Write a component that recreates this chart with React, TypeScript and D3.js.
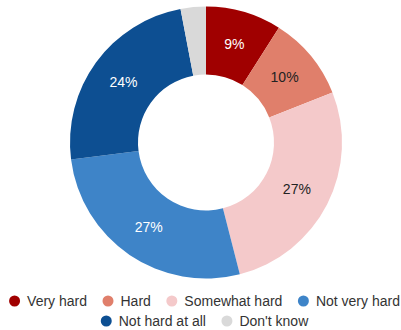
import React from "react";
import * as d3 from "d3";

const categories = ["Very hard", "Hard", "Somewhat hard", "Not very hard", "Not hard at all", "Don't know"];
const values = [9, 10, 27, 27, 24, 3];
const labels = ["9%", "10%", "27%", "27%", "24%", ""];
const colors = ["#a00000", "#e07f6b", "#f4c9ca", "#3e84c8", "#0d4f92", "#d9d9d9"];
const labelColors = ["#ffffff", "#222222", "#222222", "#ffffff", "#ffffff", "#222222"];
const legendRows = [[0, 1, 2, 3], [4, 5]];

const W = 401, H = 330;
const FONT = "'Liberation Sans', Arial, sans-serif";

function measure(t: string, size: number) {
  const c = document.createElement("canvas").getContext("2d")!;
  c.font = `${size}px ${FONT}`;
  return c.measureText(t).width;
}

export default function App() {
  const cx = 206, cy = 142.5, R = 136, r = 68;
  const pie = d3.pie<number>().value(d => d).sort(null);
  const arcs = pie(values);
  const arc = d3.arc<d3.PieArcDatum<number>>().innerRadius(r).outerRadius(R);

  const legendFont = 14;
  const rowsY = [301, 321];
  const cr = 5.5;
  const textOff = 12.5;
  const gap = 21;
  const legendItems: JSX.Element[] = [];
  legendRows.forEach((row, ri) => {
    const widths = row.map(i => textOff + measure(categories[i], legendFont));
    const total = widths.reduce((a, b) => a + b, 0) + (gap - 0) * (row.length - 1) + cr;
    let x = 204.5 - total / 2 + cr;
    row.forEach((i, k) => {
      legendItems.push(
        <g key={i} transform={`translate(${x},${rowsY[ri]})`}>
          <circle r={cr} fill={colors[i]} />
          <text x={textOff} dy="0.35em" fontSize={legendFont} fill="#333" fontFamily={FONT}>{categories[i]}</text>
        </g>
      );
      x += widths[k] + gap;
    });
  });

  return (
    <svg width={W} height={H} style={{ position: "absolute", left: 0, top: 0 }}>
      <rect width={W} height={H} fill="#fff" />
      <g transform={`translate(${cx},${cy})`}>
        {arcs.map((a, i) => (
          <path key={i} d={arc(a)!} fill={colors[i]} />
        ))}
        {arcs.map((a, i) => {
          const [x, y] = arc.centroid(a);
          return labels[i] ? (
            <text key={i} x={x} y={y} dy="0.35em" textAnchor="middle" fontSize={14} fill={labelColors[i]} fontFamily={FONT}>{labels[i]}</text>
          ) : null;
        })}
      </g>
      {legendItems}
    </svg>
  );
}
